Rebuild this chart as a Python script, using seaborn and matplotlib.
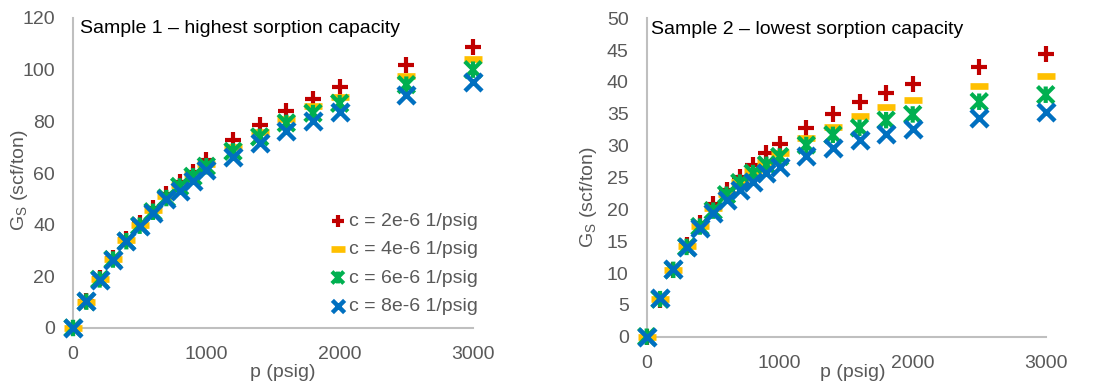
import numpy as np
import pandas as pd
import matplotlib
matplotlib.use("Agg")
import matplotlib.pyplot as plt
from matplotlib.path import Path
from matplotlib.markers import MarkerStyle
import seaborn as sns

# ---------------- data ----------------
pressure = [0, 100, 200, 300, 400, 500, 600, 700, 800, 900, 1000,
            1200, 1400, 1600, 1800, 2000, 2500, 3000]

series_labels = ["c = 2e-6 1/psig", "c = 4e-6 1/psig",
                 "c = 6e-6 1/psig", "c = 8e-6 1/psig"]

s1_c2 = [0, 10.3, 19.2, 27.0, 34.3, 40.5, 46.5, 52.0, 56.5, 60.5, 65.0,
         72.6, 78.5, 84.0, 88.8, 93.2, 102.0, 108.8]
s1_c4 = [0, 10.1, 19.0, 26.6, 33.9, 39.8, 45.6, 51.0, 55.5, 59.7, 63.6,
         70.2, 76.0, 81.0, 85.8, 89.5, 97.7, 104.0]
s1_c6 = [0, 10.2, 18.8, 26.5, 33.6, 39.6, 45.0, 50.3, 54.8, 58.7, 62.6,
         68.4, 74.0, 79.4, 83.2, 87.0, 94.2, 100.0]
s1_c8 = [0, 10.3, 18.7, 26.5, 33.5, 39.4, 44.5, 49.8, 53.2, 57.0, 61.0,
         66.2, 71.6, 76.4, 80.2, 83.8, 90.2, 95.2]

s2_c2 = [0, 5.8, 10.4, 14.4, 17.9, 20.9, 23.1, 25.1, 27.0, 28.8, 30.2,
         32.8, 34.9, 36.8, 38.3, 39.7, 42.4, 44.4]
s2_c4 = [0, 5.9, 10.5, 14.2, 17.4, 20.2, 22.4, 24.3, 26.0, 27.5, 28.9,
         31.2, 33.0, 34.7, 36.0, 37.1, 39.3, 40.9]
s2_c6 = [0, 5.9, 10.5, 14.1, 17.3, 19.8, 22.3, 24.2, 25.7, 27.0, 28.3,
         30.1, 31.7, 32.8, 34.0, 34.9, 36.9, 38.0]
s2_c8 = [0, 6.1, 10.6, 14.1, 17.0, 19.4, 21.5, 23.0, 24.3, 25.7, 26.7,
         28.3, 29.7, 30.9, 31.8, 32.6, 34.3, 35.3]

panel_titles = ["Sample 1 \u2013 highest sorption capacity",
                "Sample 2 \u2013 lowest sorption capacity"]
y_ticks_1 = [0, 20, 40, 60, 80, 100, 120]
y_ticks_2 = [0, 5, 10, 15, 20, 25, 30, 35, 40, 45, 50]
x_ticks = [0, 1000, 2000, 3000]

# ---------------- build frames ----------------
def make_df(vals):
    rows = []
    for lab, v in zip(series_labels, vals):
        for p, g in zip(pressure, v):
            rows.append({"p": p, "G": g, "series": lab})
    return pd.DataFrame(rows)

df1 = make_df([s1_c2, s1_c4, s1_c6, s1_c8])
df2 = make_df([s2_c2, s2_c4, s2_c6, s2_c8])

# ---------------- style ----------------
sns.set_style("white")
plt.rcParams["font.family"] = ["Liberation Sans", "DejaVu Sans"]
plt.rcParams["mathtext.default"] = "regular"

colors = ["#C00000", "#FFC000", "#00B050", "#0070C0"]
star_path = Path([(-1, -1), (1, 1), (-1, 1), (1, -1), (0, -1), (0, 1)],
                 [Path.MOVETO, Path.LINETO, Path.MOVETO, Path.LINETO,
                  Path.MOVETO, Path.LINETO])
markers = [MarkerStyle("+"),
           MarkerStyle("_", capstyle="round"),
           MarkerStyle(star_path, fillstyle="none"),
           MarkerStyle("x")]
sizes = [135, 175, 140, 150]
lws = [3.0, 4.8, 3.0, 3.2]

W, H = 1097, 388
fig = plt.figure(figsize=(W / 100, H / 100), dpi=100)

ax1 = fig.add_axes([73 / W, (H - 328) / H, 400 / W, 310 / H])
ax2 = fig.add_axes([646.7 / W, (H - 336.7) / H, 399 / W, 318.4 / H])

tick_col = "#595959"
spine_col = "#BFBFBF"
fs = 14

for ax, df, yticks, ymax in [(ax1, df1, y_ticks_1, 120),
                             (ax2, df2, y_ticks_2, 50)]:
    for lab, col, mk, s, lw in zip(series_labels, colors, markers, sizes, lws):
        sub = df[df["series"] == lab]
        sns.scatterplot(data=sub, x="p", y="G", ax=ax, color=col, marker=mk,
                        s=s, linewidth=lw, label=lab, clip_on=False, legend=False)
    ax.set_xlim(0, 3000)
    ax.set_ylim(0, ymax)
    ax.set_xticks(x_ticks)
    ax.set_yticks(yticks)
    ax.tick_params(axis="both", length=0, pad=13, labelsize=fs, labelcolor=tick_col)
    for side in ["top", "right"]:
        ax.spines[side].set_visible(False)
    for side in ["left", "bottom"]:
        ax.spines[side].set_color(spine_col)
        ax.spines[side].set_linewidth(1.5)
        ax.spines[side].set_zorder(0.5)
    ax.grid(False)
    ax.set_xlabel("p (psig)", fontsize=fs, color=tick_col, va="center")
    ax.set_ylabel("G$_S$ (scf/ton)", fontsize=fs, color=tick_col, va="center")

ax1.text(0.0175, 0.965, panel_titles[0], transform=ax1.transAxes,
         fontsize=fs, color="black", ha="left", va="center")
ax2.text(0.011, 0.965, panel_titles[1], transform=ax2.transAxes,
         fontsize=fs, color="black", ha="left", va="center")

ax1.xaxis.set_label_coords(0.525, -0.145)
ax2.xaxis.set_label_coords(0.517, -0.114)
ax1.yaxis.set_label_coords(-0.1325, 0.477)
ax2.yaxis.set_label_coords(-0.147, 0.439)

handles, labels = ax1.get_legend_handles_labels()
leg = ax1.legend(handles, labels, loc="upper left",
                 bbox_to_anchor=(332 / W, (H - 212) / H),
                 bbox_transform=fig.transFigure, frameon=False,
                 fontsize=fs, handlelength=0.6, handletextpad=0.3,
                 labelspacing=0.56, markerscale=0.72, borderpad=0,
                 borderaxespad=0)
for t in leg.get_texts():
    t.set_color(tick_col)

fig.savefig("out.png", dpi=100)
